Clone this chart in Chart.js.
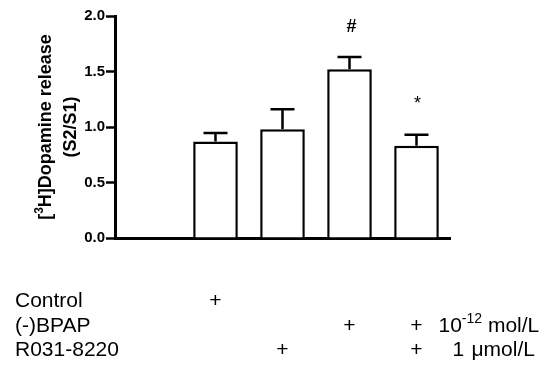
<!DOCTYPE html>
<html>
<head>
<meta charset="utf-8">
<script src="https://cdn.jsdelivr.net/npm/chart.js@4"></script>
<style>
  html, body { margin: 0; padding: 0; background: #fff; }
</style>
</head>
<body>
<canvas id="dopaminegraph" width="550" height="376"></canvas>
<script>
// Groups (first slot is the empty gap next to the y axis)
var groups = ["", "Control", "R031-8220", "(-)BPAP", "(-)BPAP + R031-8220"];
var meanRelease = [null, 0.87, 0.98, 1.52, 0.83];
var semRelease = [null, 0.075, 0.18, 0.11, 0.10];
var sigMarks = ["", "", "", "#", "*"];

// Y axis
var yMin = 0, yMax = 2.0, yStep = 0.5;

// Treatment table under the graph
var rowLabels = ["Control", "(-)BPAP", "R031-8220"];
var controlRow = [0, 1, 0, 0, 0];
var bpapRow = [0, 0, 0, 1, 1];
var roRow = [0, 0, 1, 0, 1];
var bpapDose = ["10", "-12", " mol/L"];
var roDose = ["1", "\u03bcmol/L"];

var FONT = "Arial, 'Liberation Sans', sans-serif";

var extras = {
    id: "extras",
    afterDatasetsDraw: function (chart) {
        var ctx = chart.ctx;
        var xs = chart.scales.x;
        var ys = chart.scales.y;
        ctx.save();

        // error bars + significance marks
        ctx.strokeStyle = "#000";
        ctx.fillStyle = "#000";
        ctx.lineWidth = 2.5;
        for (var i = 0; i < groups.length; i++) {
            if (meanRelease[i] == null) continue;
            var cx = xs.getPixelForValue(i);
            var top = ys.getPixelForValue(meanRelease[i]);
            var errTop = ys.getPixelForValue(meanRelease[i] + semRelease[i]);
            ctx.beginPath();
            ctx.moveTo(cx, top);
            ctx.lineTo(cx, errTop);
            ctx.moveTo(cx - 12, errTop);
            ctx.lineTo(cx + 12, errTop);
            ctx.stroke();

            if (sigMarks[i] == "#") {
                ctx.font = "bold 18px " + FONT;
                ctx.textAlign = "center";
                ctx.textBaseline = "middle";
                ctx.fillText("#", cx + 2, errTop - 30);
            } else if (sigMarks[i] == "*") {
                ctx.font = "18px " + FONT;
                ctx.textAlign = "center";
                ctx.textBaseline = "middle";
                ctx.fillText("*", cx + 1, errTop - 31);
            }
        }

        // y axis title, rotated, with superscript 3
        var area = chart.chartArea;
        var midY = (area.top + area.bottom) / 2;
        ctx.translate(46, midY);
        ctx.rotate(-Math.PI / 2);
        ctx.textBaseline = "middle";
        ctx.textAlign = "left";
        var big = "bold 18px " + FONT;
        var small = "bold 12px " + FONT;
        ctx.font = big;
        var w1 = ctx.measureText("[").width;
        var w3 = ctx.measureText("H]Dopamine release").width;
        ctx.font = small;
        var w2 = ctx.measureText("3").width;
        var sx = -(w1 + w2 + w3) / 2;
        ctx.font = big;
        ctx.fillText("[", sx, 0);
        ctx.font = small;
        ctx.fillText("3", sx + w1, -6);
        ctx.font = big;
        ctx.fillText("H]Dopamine release", sx + w1 + w2, 0);
        ctx.textAlign = "center";
        ctx.fillText("(S2/S1)", 0, 25);
        ctx.setTransform(1, 0, 0, 1, 0, 0);

        // treatment table
        var rows = [controlRow, bpapRow, roRow];
        var rowY = [301, 326, 350];
        ctx.font = "21px " + FONT;
        ctx.textBaseline = "middle";
        for (var r = 0; r < rows.length; r++) {
            ctx.textAlign = "left";
            ctx.fillText(rowLabels[r], 15, rowY[r]);
            ctx.textAlign = "center";
            for (var c = 0; c < rows[r].length; c++) {
                if (rows[r][c]) ctx.fillText("+", xs.getPixelForValue(c), rowY[r]);
            }
        }
        var lastX = xs.getPixelForValue(groups.length - 1);
        ctx.textAlign = "left";
        var dx = lastX + 22;
        ctx.fillText(bpapDose[0], dx, rowY[1]);
        dx += ctx.measureText(bpapDose[0]).width;
        ctx.font = "14px " + FONT;
        ctx.fillText(bpapDose[1], dx, rowY[1] - 7);
        dx += ctx.measureText(bpapDose[1]).width;
        ctx.font = "21px " + FONT;
        ctx.fillText(bpapDose[2], dx, rowY[1]);
        ctx.fillText(roDose[0], lastX + 36, rowY[2]);
        ctx.fillText(roDose[1], lastX + 55, rowY[2]);

        ctx.restore();
    }
};

var graph = document.getElementById("dopaminegraph").getContext("2d");

new Chart(graph, {
    type: "bar",
    data: {
        labels: groups,
        datasets: [{
            label: "Dopamine release",
            data: meanRelease,
            backgroundColor: "#fff",
            borderColor: "#000",
            borderWidth: 2.5,
            barPercentage: 0.666,
            categoryPercentage: 1.0
        }]
    },
    options: {
        responsive: false,
        animation: false,
        devicePixelRatio: 1,
        layout: { padding: { top: 16, right: 100, bottom: 138, left: 0 } },
        plugins: {
            legend: { display: false },
            tooltip: { enabled: false }
        },
        scales: {
            x: {
                grid: { display: false },
                ticks: { display: false },
                border: { display: true, color: "#000", width: 3 },
                afterFit: function (s) { s.height = 0; }
            },
            y: {
                min: yMin,
                max: yMax,
                ticks: {
                    stepSize: yStep,
                    color: "#000",
                    padding: 1,
                    font: { family: FONT, size: 15, weight: "bold" },
                    callback: function (v) { return v.toFixed(1); }
                },
                grid: {
                    drawOnChartArea: false,
                    drawTicks: true,
                    tickLength: 9,
                    tickWidth: 2.5,
                    tickColor: "#000"
                },
                border: { display: true, color: "#000", width: 3 },
                afterFit: function (s) { s.width = 115; }
            }
        }
    },
    plugins: [extras]
});
</script>
</body>
</html>
